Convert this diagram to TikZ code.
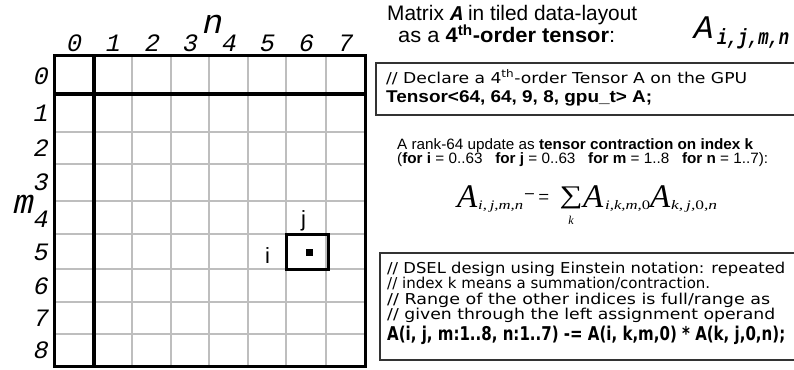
\documentclass[tikz,border=0pt]{standalone}
\usepackage{graphicx}
\usepackage{fontspec}
\setmainfont{Liberation Sans}
\newfontfamily\cour{Liberation Mono}
\newfontfamily\courit{Liberation Mono}[FakeSlant=0.22]
\newfontfamily\dejav{DejaVu Sans}
\newfontfamily\lserif{Liberation Serif}
\newcommand\fs[1]{\fontsize{#1}{#1}\selectfont}
\newcommand\fitw[2]{\resizebox{#1pt}{\height}{#2}}
\definecolor{gridgray}{HTML}{BEBEBE}
\definecolor{boxgray}{HTML}{333333}
\tikzset{
  gridline/.style={draw=gridgray, line width=2pt},
  thickline/.style={draw=black, line width=4.8pt},
  borderline/.style={draw=black, line width=3pt},
  boxline/.style={draw=boxgray, line width=1.4pt},
  coln/.style={font=\courit\fs{25}, inner sep=0pt, anchor=base},
  rown/.style={font=\courit\fs{25}, inner sep=0pt, anchor=center},
  txt/.style={inner sep=0pt, anchor=base west},
}
\begin{document}
\begin{tikzpicture}[x=1pt,y=-1pt]
\useasboundingbox (0,0) rectangle (794,369);
\clip (0,0) rectangle (794,369);
% grid
\foreach \x in {132,171,209,248,286,326}
  \draw[gridline] (\x,56) -- (\x,366);
\foreach \y in {132,164,201,234,269,302,334}
  \draw[gridline] (54,\y) -- (365,\y);
\draw[thickline] (94,56) -- (94,366);
\draw[thickline] (54,94) -- (365,94);
\draw[borderline] (54,56) rectangle (365,366);
% highlighted tile
\draw[draw=black, line width=3pt] (286,234) rectangle (328,269);
\fill (305.5,248.5) rectangle (312.5,255.5);
\node[txt, font=\fs{22}] (ilab) at (265,263) {i};
\node[txt, font=\fs{22}] (jlab) at (301,226) {j};
% column labels
\foreach \c/\x in {0/73,1/112,2/151,3/189,4/228,5/266,6/305,7/344}
  \node[coln] (c\c) at (\x,52) {\c};
\node[font=\courit\fs{34}, inner sep=0pt] (nlab) at (211,24) {n};
% row labels
\foreach \r/\y in {0/76,1/113,2/148,3/182,4/219,5/252,6/286,7/318,8/350}
  \node[rown] (r\r) at (40,\y) {\r};
\node[font=\courit\fs{34}, inner sep=0pt] (mlab) at (22,204) {m};
% title
\node[txt, font=\fs{21}] (t1) at (387,21) {\fitw{250}{Matrix {\courit\bfseries A} in tiled data-layout}};
\node[txt, font=\fs{21}] (t2) at (398,43) {\fitw{217}{as a \textbf{4\textsuperscript{th}-order tensor}:}};
\node[txt, font=\courit\fs{33}] (t3) at (692,38) {A};
\node[txt] (t3s) at (716,45) {\fitw{72}{\courit\bfseries\fs{22}i,j,m,n}};
% box 1
\draw[boxline] (376,63) rectangle (800,115);
\node[txt, font=\dejav\fs{15}] (b1a) at (386,83) {\fitw{361}{// Declare a 4\textsuperscript{th}-order Tensor A on the GPU}};
\node[txt, font=\bfseries\fs{17}] (b1b) at (386,102) {\fitw{266}{Tensor<64, 64, 9, 8, gpu\_t> A;}};
% contraction text
\node[txt, font=\fs{15}] (c1) at (397,149.5) {\fitw{356}{A rank-64 update as \textbf{tensor contraction on index k}}};
\node[txt, font=\fs{15}] (c2) at (397,163) {\fitw{371}{(\textbf{for i} = 0..63\ \ \ \textbf{for j} = 0..63\ \ \ \textbf{for m} = 1..8\ \ \ \textbf{for n} = 1..7):}};
% equation
\node[txt, font=\lserif\itshape\fs{33}] (e1) at (457,207) {A};
\node[txt, font=\lserif\itshape\fs{13}] (e1s) at (478,209) {\fitw{45}{i,\,j,m,n}};
\node[txt, font=\lserif\fs{22}] (eop) at (524,204) {\fitw{25}{\raisebox{3pt}{\textminus}\,=}};
\node[inner sep=0pt] (esum) at (571,198) {\resizebox*{23pt}{22pt}{\lserif\fs{30}\symbol{"2211}}};
\node[font=\lserif\itshape\fs{12}, inner sep=0pt] (ek) at (571,220) {k};
\node[txt, font=\lserif\itshape\fs{33}] (e2) at (583,207) {A};
\node[txt, font=\lserif\itshape\fs{13}] (e2s) at (605,209) {\fitw{45}{i,k,m,{\upshape 0}}};
\node[txt, font=\lserif\itshape\fs{33}] (e3) at (650,207) {A};
\node[txt, font=\lserif\itshape\fs{13}] (e3s) at (671,209) {\fitw{46}{k,\,j,{\upshape 0},n}};
% box 3
\draw[boxline] (380,253) rectangle (800,360);
\node[txt, font=\dejav\fs{15}] (d1) at (387,273) {\fitw{398}{// DSEL design using Einstein notation: repeated}};
\node[txt, font=\dejav\fs{15}] (d2) at (387,288.5) {\fitw{323}{// index k means a summation/contraction.}};
\node[txt, font=\dejav\fs{15}] (d3) at (387,304) {\fitw{383}{// Range of the other indices is full/range as}};
\node[txt, font=\dejav\fs{15}] (d4) at (387,319.5) {\fitw{388}{// given through the left assignment operand}};
\node[txt, font=\dejav\bfseries\fs{19}] (d5) at (387,340) {\fitw{398}{A(i, j, m:1..8, n:1..7) -= A(i, k,m,0) * A(k, j,0,n);}};
\end{tikzpicture}
\end{document}
